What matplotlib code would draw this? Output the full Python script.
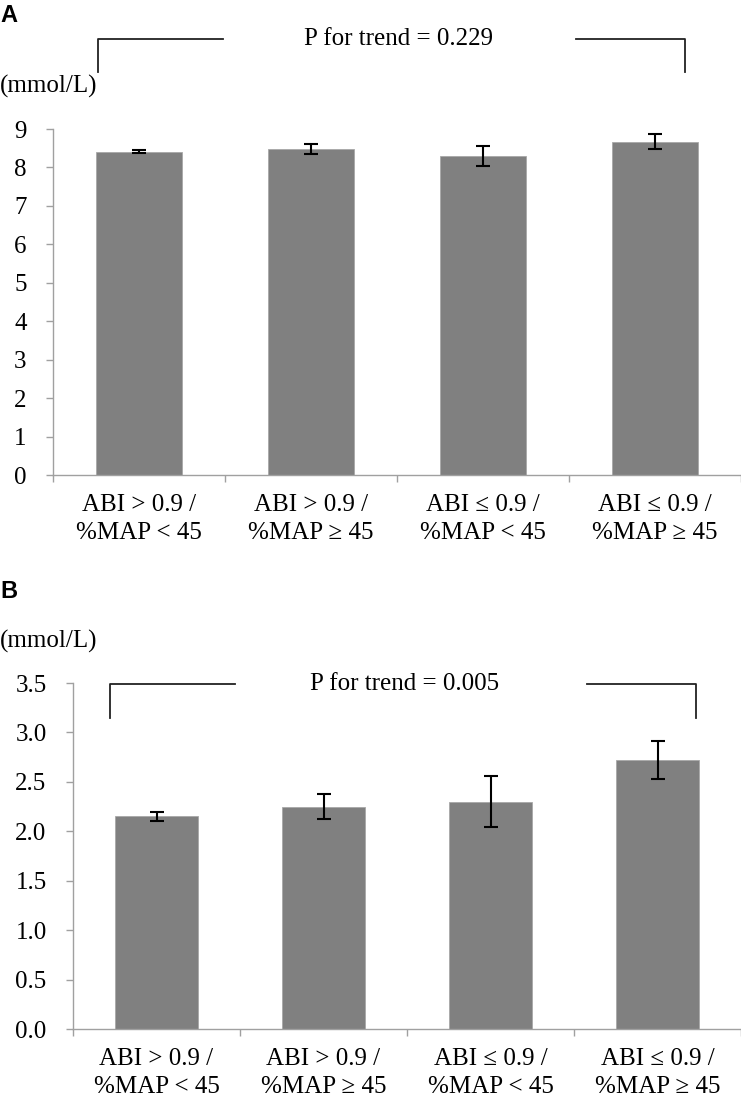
import matplotlib
matplotlib.use("Agg")
import matplotlib.pyplot as plt
from matplotlib.lines import Line2D

categories = ["ABI > 0.9 /\n%MAP < 45", "ABI > 0.9 /\n%MAP \u2265 45",
              "ABI \u2264 0.9 /\n%MAP < 45", "ABI \u2264 0.9 /\n%MAP \u2265 45"]
values_a = [8.41, 8.49, 8.31, 8.67]
errors_a = [0.04, 0.13, 0.26, 0.19]
values_b = [2.15, 2.25, 2.30, 2.72]
errors_b = [0.05, 0.13, 0.26, 0.19]
yticks_a = [0, 1, 2, 3, 4, 5, 6, 7, 8, 9]
yticks_b = [0.0, 0.5, 1.0, 1.5, 2.0, 2.5, 3.0, 3.5]
ptext_a = "P for trend = 0.229"
ptext_b = "P for trend = 0.005"

W, H = 741, 1105
plt.rcParams['font.family'] = ['Liberation Serif', 'DejaVu Serif']
fig = plt.figure(figsize=(W / 100, H / 100), dpi=100)

def fx(px):
    return px / W

def fy(py):
    return 1 - py / H

SPINE = '#a0a0a0'
BAR = '#808080'
FS = 18

def panel(rect, values, errors, yticks, ylim, fmt):
    ax = fig.add_axes(rect)
    x = list(range(len(values)))
    ax.bar(x, values, width=0.5, color=BAR, edgecolor='#a8a8a8', linewidth=0.6, zorder=2)
    ax.errorbar(x, values, yerr=errors, fmt='none', ecolor='black',
                elinewidth=1.5, capsize=5, capthick=1.5, zorder=3)
    ax.set_xlim(-0.5, len(values) - 0.5)
    ax.set_ylim(*ylim)
    ax.set_yticks(yticks)
    ax.set_yticklabels([fmt.format(v) for v in yticks], fontsize=FS)
    ax.set_xticks([i - 0.5 for i in range(len(values) + 1)], minor=False)
    ax.set_xticklabels([])
    ax.set_xticks(x, minor=True)
    ax.set_xticklabels(categories, minor=True, fontsize=FS, linespacing=1.3)
    ax.tick_params(axis='x', which='major', length=5, color=SPINE, width=1)
    ax.tick_params(axis='x', which='minor', length=0, pad=14)
    ax.tick_params(axis='y', length=5, color=SPINE, width=1, pad=14)
    for s in ['top', 'right']:
        ax.spines[s].set_visible(False)
    for s in ['left', 'bottom']:
        ax.spines[s].set_color(SPINE)
        ax.spines[s].set_linewidth(1)
    return ax

axA = panel([fx(53), fy(475), fx(741) - fx(53), fy(129) - fy(475)],
            values_a, errors_a, yticks_a, (0, 9), "{:d}")
axB = panel([fx(73), fy(1029), fx(741) - fx(73), fy(683) - fy(1029)],
            values_b, errors_b, yticks_b, (0, 3.5), "{:.1f}")

def bracket(xl, xr, y, ydown, segl, segr, text, tx):
    kw = dict(color='#222222', linewidth=1.3, transform=fig.transFigure)
    fig.add_artist(Line2D([fx(xl), fx(xl), fx(segl)], [fy(ydown), fy(y), fy(y)], **kw))
    fig.add_artist(Line2D([fx(segr), fx(xr), fx(xr)], [fy(y), fy(y), fy(ydown)], **kw))
    fig.text(fx(tx), fy(y), text, ha='center', va='center', fontsize=FS)

bracket(98, 685, 39, 72, 223, 576, ptext_a, 399)
bracket(110, 696, 684, 718, 235, 587, ptext_b, 405)

fig.text(fx(0), fy(86), "(mmol/L)", ha='left', va='center', fontsize=FS)
fig.text(fx(0), fy(641), "(mmol/L)", ha='left', va='center', fontsize=FS)
fig.text(fx(0), fy(15), "A", ha='left', va='center', fontsize=17, fontweight='bold',
         family='Liberation Sans')
fig.text(fx(0), fy(592), "B", ha='left', va='center', fontsize=17, fontweight='bold',
         family='Liberation Sans')

fig.savefig("out.png", dpi=100)
